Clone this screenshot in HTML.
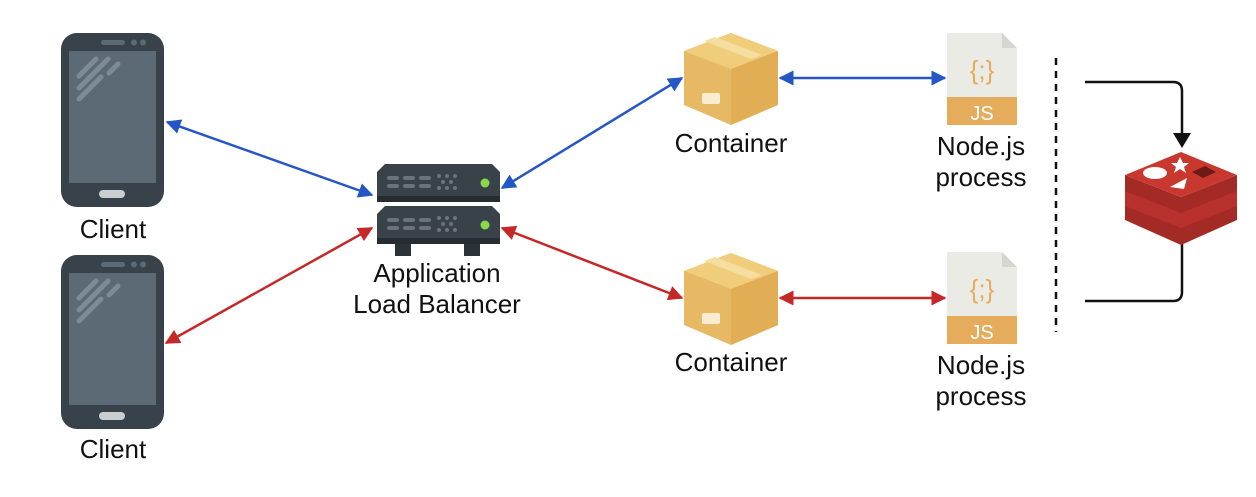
<!DOCTYPE html>
<html><head><style>
body{margin:0;background:#fff;width:1256px;height:492px;overflow:hidden;}
svg text{font-family:"Liberation Sans",sans-serif;font-size:26px;fill:#111;text-anchor:middle;}
</style></head><body>
<svg width="1256" height="492" viewBox="0 0 1256 492">
<defs>
<marker id="b" viewBox="0 0 10 10" refX="9" refY="5" markerWidth="6" markerHeight="6" orient="auto-start-reverse"><path d="M0,0L10,5L0,10z" fill="#2457c5"/></marker>
<marker id="r" viewBox="0 0 10 10" refX="9" refY="5" markerWidth="6" markerHeight="6" orient="auto-start-reverse"><path d="M0,0L10,5L0,10z" fill="#c62828"/></marker>
<g id="phone">
<rect x="0" y="0" width="103" height="174" rx="16" fill="#37424b"/>
<rect x="8" y="18" width="87" height="132" fill="#5b6a75"/>
<rect x="40" y="7" width="24" height="5" rx="2.5" fill="#5b6a75"/>
<circle cx="73" cy="9.5" r="3" fill="#5b6a75"/><circle cx="82" cy="9.5" r="3" fill="#5b6a75"/>
<rect x="38" y="157" width="26" height="8" rx="4" fill="#c8cdd0"/>
<g stroke="#7d8b95" stroke-width="5" stroke-linecap="round"><line x1="18" y1="43" x2="35" y2="26"/><line x1="28" y1="45" x2="47" y2="26"/><line x1="18" y1="55" x2="30" y2="43"/><line x1="18" y1="66" x2="40" y2="44"/><line x1="48" y1="40" x2="57" y2="31"/></g>
</g>
<g id="box">
<path d="M47,0 L94,18 L94,72 L47,92 L0,72 L0,18z" fill="#e8b964"/>
<path d="M0,18 L47,36 L94,18 L47,0z" fill="#f0cd7a"/>
<path d="M47,36 L94,18 L94,72 L47,92z" fill="#e2ae55"/>
<path d="M20,8 L67,26 L78,22 L31,4z" fill="#f5dea0"/>
<rect x="18" y="60" width="18" height="11" rx="2" fill="#f8edd0"/>
</g>
<g id="js">
<path d="M0,0 L55,0 L70,15 L70,92 L0,92z" fill="#ebebe6"/>
<path d="M55,0 L70,15 L55,15z" fill="#d6d6d0"/>
<rect x="0" y="64" width="70" height="28" fill="#e5ac5c"/>
<text x="35" y="87" style="font-size:20px;fill:#fff">JS</text>
<text x="35" y="46" style="font-size:26px;fill:#e5ac5c">{;}</text>
</g>
<g id="srv">
<path d="M8,0 L115,0 L123,8 L123,32 L0,32 L0,8z" fill="#3a4249"/>
<rect x="0" y="32" width="123" height="6" fill="#262c31"/>
<g fill="#6a747c"><rect x="10" y="12" width="12" height="4" rx="2"/><rect x="26" y="12" width="12" height="4" rx="2"/><rect x="42" y="12" width="12" height="4" rx="2"/><rect x="10" y="20" width="12" height="4" rx="2"/><rect x="26" y="20" width="12" height="4" rx="2"/><rect x="42" y="20" width="12" height="4" rx="2"/>
<circle cx="62" cy="12" r="2"/><circle cx="70" cy="12" r="2"/><circle cx="78" cy="12" r="2"/><circle cx="66" cy="18" r="2"/><circle cx="74" cy="18" r="2"/><circle cx="62" cy="24" r="2"/><circle cx="70" cy="24" r="2"/><circle cx="78" cy="24" r="2"/></g>
<circle cx="108" cy="19" r="4.5" fill="#8bd94a"/>
</g>
</defs>
<use href="#phone" x="61" y="33"/>
<use href="#phone" x="61" y="255"/>
<use href="#srv" x="377" y="164"/>
<use href="#srv" x="377" y="206"/>
<rect x="395" y="244" width="16" height="12" fill="#2c3338"/><rect x="464" y="244" width="16" height="12" fill="#2c3338"/>
<use href="#box" x="684" y="33"/>
<use href="#box" x="684" y="253"/>
<use href="#js" x="947" y="33"/>
<use href="#js" x="947" y="252"/>
<g stroke-width="2.5" fill="none">
<line x1="167" y1="122" x2="372" y2="195" stroke="#2457c5" marker-start="url(#b)" marker-end="url(#b)"/>
<line x1="502" y1="188" x2="682" y2="78" stroke="#2457c5" marker-start="url(#b)" marker-end="url(#b)"/>
<line x1="780" y1="78" x2="945" y2="78" stroke="#2457c5" marker-start="url(#b)" marker-end="url(#b)"/>
<line x1="166" y1="343" x2="372" y2="228" stroke="#c62828" marker-start="url(#r)" marker-end="url(#r)"/>
<line x1="502" y1="228" x2="682" y2="298" stroke="#c62828" marker-start="url(#r)" marker-end="url(#r)"/>
<line x1="780" y1="298" x2="945" y2="298" stroke="#c62828" marker-start="url(#r)" marker-end="url(#r)"/>
<line x1="1056" y1="58" x2="1056" y2="332" stroke="#111" stroke-dasharray="7,6"/>
<path d="M1085,82 L1173,82 Q1182,82 1182,91 L1182,135" stroke="#111"/>
<path d="M1085,301 L1173,301 Q1182,301 1182,292 L1182,244" stroke="#111"/>
</g>
<path d="M1173,133 L1191,133 L1182,148z" fill="#111"/>
<g>
<path d="M1125,205 L1181,227 L1237,205 L1237,220 L1181,245 L1125,220z" fill="#a42a26"/>
<path d="M1125,190 L1181,212 L1237,190 L1237,206 L1181,228 L1125,206z" fill="#b8312c"/>
<path d="M1125,175 L1181,197 L1237,175 L1237,191 L1181,213 L1125,191z" fill="#a42a26"/>
<path d="M1125,175 L1181,152 L1237,175 L1181,197z" fill="#c8382f"/>
<ellipse cx="1155" cy="173" rx="12" ry="6" fill="#fff"/>
<path d="M1170,187 L1187,178 L1184,189z" fill="#fff"/>
<path d="M1180,157 l3,6 6,0 -5,4 2,6 -6,-4 -6,4 2,-6 -5,-4 6,0z" fill="#fff"/>
<path d="M1192,172 L1205,166 L1216,172 L1203,178z" fill="#6e1b18"/>
</g>
<text x="113" y="238">Client</text>
<text x="113" y="458">Client</text>
<text x="437" y="282">Application</text>
<text x="437" y="313">Load Balancer</text>
<text x="731" y="152">Container</text>
<text x="731" y="371">Container</text>
<text x="981" y="155">Node.js</text>
<text x="981" y="186">process</text>
<text x="981" y="374">Node.js</text>
<text x="981" y="405">process</text>
</svg>
</body></html>
